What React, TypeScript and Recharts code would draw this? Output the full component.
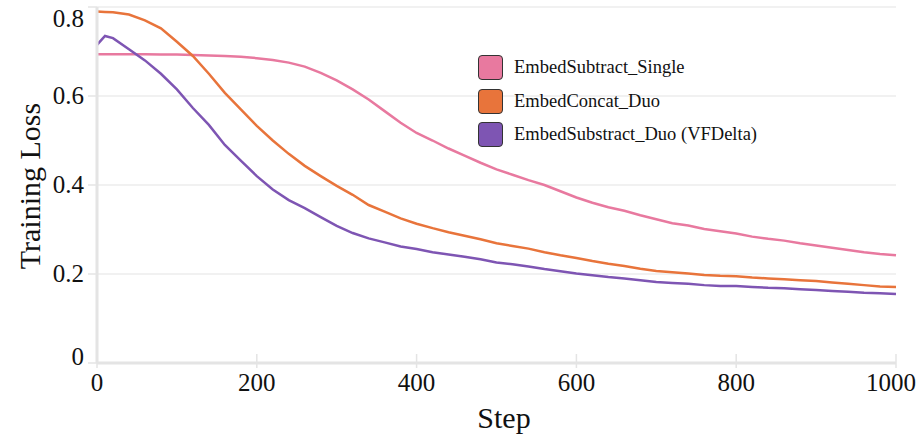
import React from "react";
import { LineChart, Line, XAxis, YAxis, CartesianGrid } from "recharts";

// Step values (x axis)
const steps = [
  0, 10, 20, 40, 60, 80, 100, 120, 140, 160, 180, 200, 220, 240, 260, 280, 300, 320, 340, 360, 380, 400,
  420, 440, 460, 480, 500, 520, 540, 560, 580, 600, 620, 640, 660, 680, 700, 720, 740, 760, 780, 800,
  820, 840, 860, 880, 900, 920, 940, 960, 980, 1000,
];

const embedSubtractSingle = [
  0.694, 0.694, 0.694, 0.694, 0.694, 0.693, 0.693, 0.692, 0.691, 0.69, 0.688, 0.685, 0.681, 0.675, 0.666,
  0.652, 0.635, 0.615, 0.592, 0.566, 0.54, 0.517, 0.5, 0.482, 0.466, 0.45, 0.435, 0.423, 0.411, 0.4,
  0.386, 0.372, 0.36, 0.35, 0.342, 0.332, 0.323, 0.314, 0.309, 0.301, 0.296, 0.291, 0.284, 0.279, 0.275,
  0.269, 0.264, 0.259, 0.254, 0.249, 0.245, 0.242,
];

const embedConcatDuo = [
  0.79, 0.789, 0.788, 0.783, 0.77, 0.752, 0.722, 0.69, 0.65, 0.607, 0.57, 0.533, 0.5, 0.47, 0.443, 0.42,
  0.398, 0.378, 0.355, 0.34, 0.325, 0.313, 0.303, 0.294, 0.286, 0.278, 0.269, 0.263, 0.257, 0.249, 0.242,
  0.236, 0.229, 0.223, 0.218, 0.212, 0.207, 0.204, 0.201, 0.198, 0.196, 0.195, 0.192, 0.19, 0.188, 0.186,
  0.184, 0.181, 0.178, 0.175, 0.172, 0.171,
];

const embedSubstractDuo = [
  0.715, 0.735, 0.73, 0.705, 0.68, 0.65, 0.615, 0.573, 0.535, 0.49, 0.455, 0.42, 0.39, 0.366, 0.348,
  0.328, 0.308, 0.292, 0.28, 0.271, 0.262, 0.256, 0.249, 0.244, 0.239, 0.233, 0.226, 0.222, 0.217, 0.211,
  0.206, 0.201, 0.197, 0.193, 0.19, 0.186, 0.182, 0.18, 0.178, 0.175, 0.173, 0.173, 0.171, 0.169, 0.168,
  0.166, 0.164, 0.162, 0.16, 0.158, 0.157, 0.155,
];

const yTicks = [0, 0.2, 0.4, 0.6, 0.8];
const xTicks = [0, 200, 400, 600, 800, 1000];

const seriesInfo = [
  { key: "single", name: "EmbedSubtract_Single", color: "#E8799F" },
  { key: "concat", name: "EmbedConcat_Duo", color: "#E8743B" },
  { key: "duo", name: "EmbedSubstract_Duo (VFDelta)", color: "#7E55B3" },
];

const data = steps.map((s, i) => ({
  step: s,
  single: embedSubtractSingle[i],
  concat: embedConcatDuo[i],
  duo: embedSubstractDuo[i],
}));

const FONT = "Liberation Serif, serif";
const AXIS_GRAY = "#e4e4e4";

function YTick(props: any) {
  const { x, y, payload } = props;
  let dy = 8;
  if (payload.value === 0.8) dy = 18;
  if (payload.value === 0) dy = 2;
  return (
    <text x={x} y={y + dy} textAnchor="end" fontFamily={FONT} fontSize={25} fill="#111">
      {payload.value === 0 ? "0" : payload.value.toFixed(1)}
    </text>
  );
}

function XTick(props: any) {
  const { x, y, payload } = props;
  let tx = x;
  if (payload.value === 1000) tx = x - 5;
  return (
    <g>
      <line x1={x} x2={x} y1={payload.value === 0 ? y : y - 9} y2={y + 5} stroke={AXIS_GRAY} strokeWidth={1.5} />
      <text x={tx} y={y + 28} textAnchor="middle" fontFamily={FONT} fontSize={25} fill="#111">
        {payload.value}
      </text>
    </g>
  );
}

export default function App() {
  return (
    <div style={{ position: "relative", width: 920, height: 439, background: "#fff" }}>
      <style>{"body{margin:0}"}</style>
      <LineChart width={920} height={439} data={data} margin={{ top: 7, right: 24, left: 0, bottom: 0 }}>
        <CartesianGrid vertical={false} stroke="#ececec" strokeWidth={1.5} />
        <XAxis
          dataKey="step"
          type="number"
          domain={[0, 1000]}
          ticks={xTicks}
          height={76}
          tickLine={false}
          tickSize={0}
          tickMargin={0}
          axisLine={{ stroke: AXIS_GRAY, strokeWidth: 3 }}
          tick={<XTick />}
          label={{
            content: () => (
              <text x={504} y={428} textAnchor="middle" fontFamily={FONT} fontSize={30} fill="#111">
                Step
              </text>
            ),
          }}
        />
        <YAxis
          type="number"
          domain={[0, 0.8]}
          ticks={yTicks}
          width={97}
          tickSize={9}
          tickMargin={4}
          tickLine={{ stroke: AXIS_GRAY, strokeWidth: 1.5 }}
          axisLine={{ stroke: AXIS_GRAY, strokeWidth: 3 }}
          tick={<YTick />}
          label={{
            content: () => (
              <text
                x={0}
                y={0}
                transform="translate(40,186) rotate(-90)"
                textAnchor="middle"
                fontFamily={FONT}
                fontSize={30}
                fill="#111"
              >
                Training Loss
              </text>
            ),
          }}
        />
        {seriesInfo.map((s) => (
          <Line
            key={s.key}
            dataKey={s.key}
            name={s.name}
            stroke={s.color}
            strokeWidth={2.5}
            dot={false}
            type="linear"
            isAnimationActive={false}
          />
        ))}
      </LineChart>
      <div style={{ position: "absolute", left: 478, top: 51, fontFamily: FONT, fontSize: 18.5 }}>
        {seriesInfo.map((s) => (
          <div key={s.key} style={{ display: "flex", alignItems: "center", height: 33.5 }}>
            <div
              style={{
                width: 23,
                height: 23,
                background: s.color,
                border: "1.5px solid #333",
                borderRadius: 4,
                marginRight: 11,
                boxSizing: "content-box",
              }}
            />
            <span style={{ color: "#111" }}>{s.name}</span>
          </div>
        ))}
      </div>
    </div>
  );
}
